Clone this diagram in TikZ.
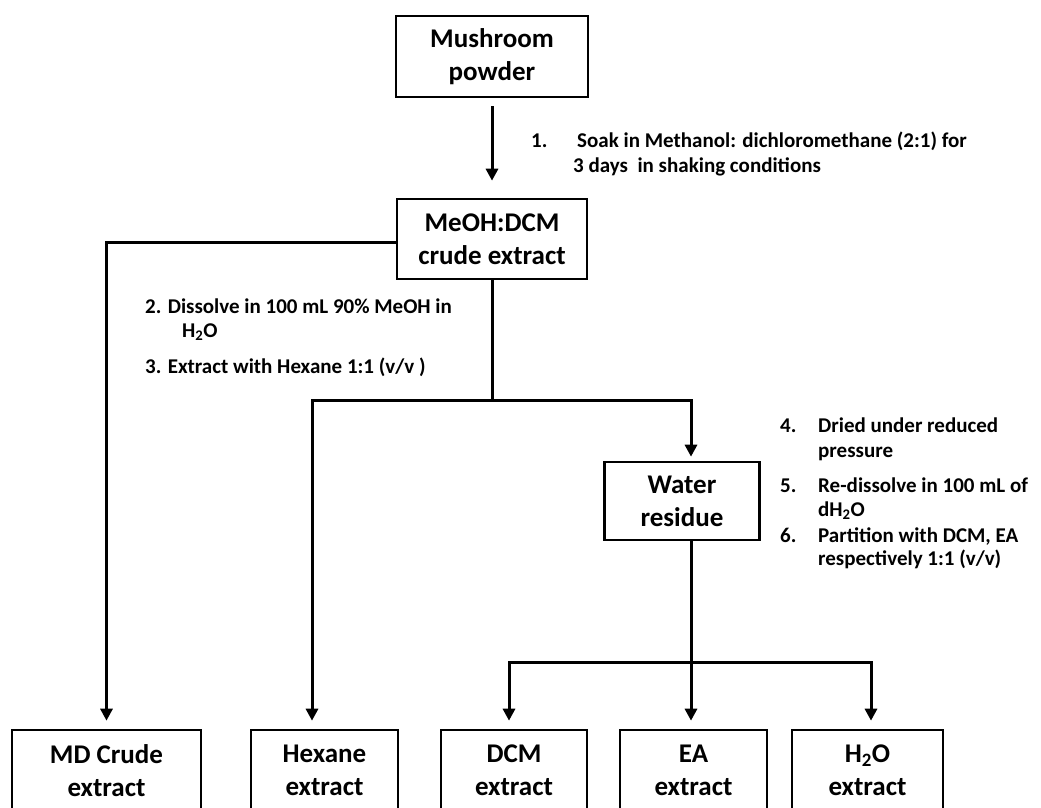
\documentclass[tikz,border=0pt]{standalone}
\usepackage{fontspec}
\setmainfont{Carlito}
\usetikzlibrary{arrows.meta}
\begin{document}
\begin{tikzpicture}[x=1pt,y=-1pt,
  box/.style={draw, line width=2.6pt, align=center, inner sep=0pt, font=\fontsize{27}{33}\selectfont\bfseries},
  ln/.style={line width=3pt},
  arr/.style={line width=3pt, -{Triangle[length=12pt,width=12pt]}},
  note/.style={anchor=base west, inner sep=0pt, font=\fontsize{21}{25}\selectfont\bfseries}]
\useasboundingbox (0,0) rectangle (1041,808);
\clip (0,0) rectangle (1041,808);
\fill[white] (0,0) rectangle (1041,808);
% boxes
\node[box, minimum width=192pt, minimum height=81pt] (mush) at (492,56.5) {Mushroom\\powder};
\node[box, minimum width=190pt, minimum height=80pt] (meoh) at (492,239) {MeOH:DCM\\crude extract};
\node[box, minimum width=155pt, minimum height=78pt] (water) at (682,501) {Water\\residue};
\node[box, minimum width=189pt, minimum height=81pt] (md) at (106.5,770.5) {MD Crude\\extract};
\node[box, minimum width=147pt, minimum height=81pt] (hex) at (324.5,770.5) {Hexane\\extract};
\node[box, minimum width=146pt, minimum height=81pt] (dcm) at (514,770.5) {DCM\\extract};
\node[box, minimum width=147pt, minimum height=81pt] (ea) at (693.5,770.5) {EA\\extract};
\node[box, minimum width=151pt, minimum height=81pt] (h2o) at (867.5,770.5) {H\textsubscript{2}O\\extract};
% connectors
\draw[arr, shorten <=8pt, shorten >=17pt] (mush.south) -- (meoh.north);
\draw[arr, shorten >=8pt] ([yshift=-3pt]meoh.west) -| (md.north);
\coordinate (j1) at (492,400);
\draw[ln] (meoh.south) -- (j1);
\draw[arr, shorten >=8pt] (j1) -| ([xshift=-12.5pt]hex.north);
\draw[arr, shorten >=4pt] (j1) -| ([xshift=9pt]water.north);
\coordinate (j2) at (691,662);
\draw[ln] ([xshift=9pt]water.south) -- (j2);
\draw[arr, shorten >=8pt] (j2) -| ([xshift=-5pt]dcm.north);
\draw[arr, shorten >=8pt] (j2) -- ([xshift=-2.5pt]ea.north);
\draw[arr, shorten >=8pt] (j2) -| ([xshift=3.5pt]h2o.north);
% notes
\node[note] (n1a) at (531,147) {1.};
\node[note] (n1b) at (577,147) {Soak in Methanol: dichloromethane (2:1) for};
\node[note] (n1c) at (573,172) {3 days\ \ in shaking conditions};
\node[note] (n2a) at (145,313) {2. Dissolve in 100 mL 90\% MeOH in};
\node[note] (n2b) at (182,337) {H\textsubscript{2}O};
\node[note] (n3) at (145,373) {3. Extract with Hexane 1:1 (v/v )};
\node[note] (n4a) at (780,432) {4.};
\node[note] (n4b) at (818,432) {Dried under reduced};
\node[note] (n4c) at (818,457) {pressure};
\node[note] (n5a) at (780,492) {5.};
\node[note] (n5b) at (818,492) {Re-dissolve in 100 mL of};
\node[note] (n5c) at (818,516) {dH\textsubscript{2}O};
\node[note] (n6a) at (780,542) {6.};
\node[note] (n6b) at (818,542) {Partition with DCM, EA};
\node[note] (n6c) at (818,565) {respectively 1:1 (v/v)};
\end{tikzpicture}
\end{document}
